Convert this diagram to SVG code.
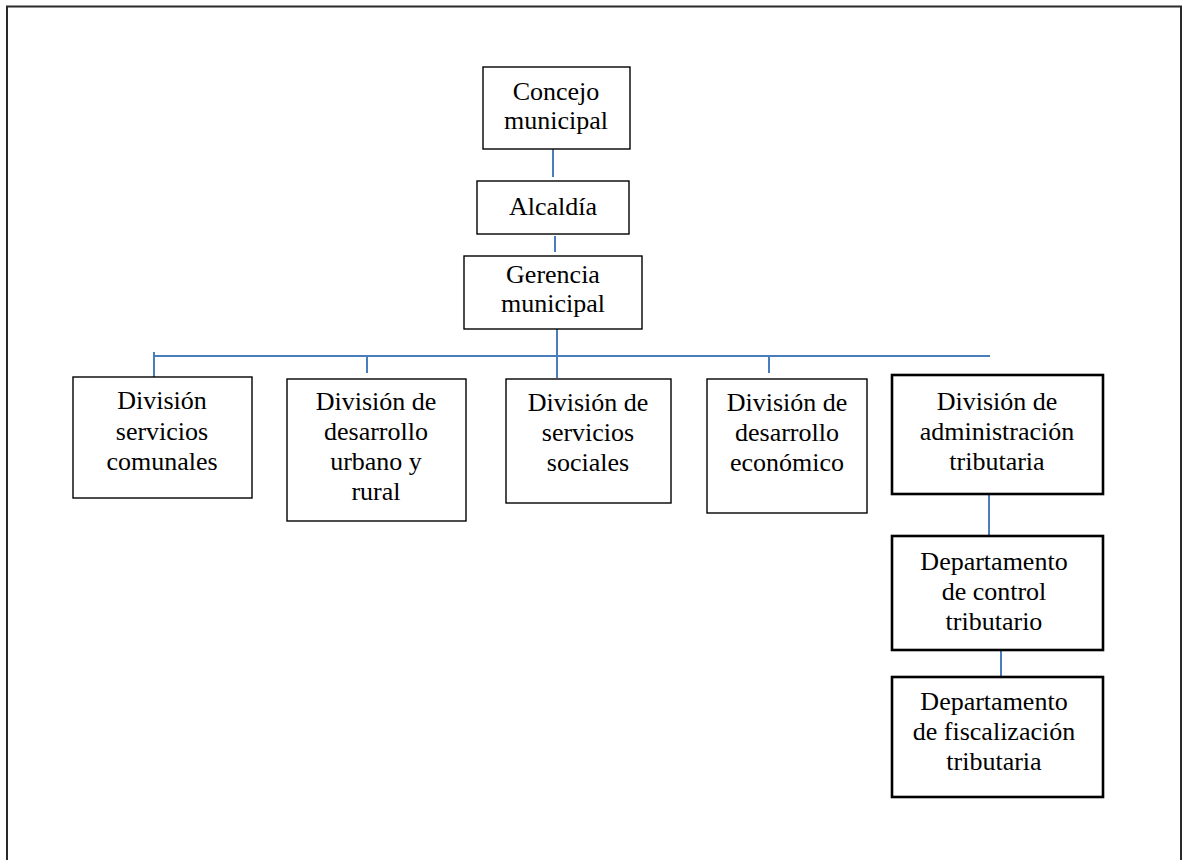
<svg xmlns="http://www.w3.org/2000/svg" width="1186" height="860" viewBox="0 0 1186 860">
<style>
.bg{fill:#ffffff}
.frame{fill:none;stroke:#2a2a2a;stroke-width:2}
.box{fill:#ffffff;stroke:#000000;stroke-width:1.4}
.boxb{fill:#ffffff;stroke:#000000;stroke-width:2.6}
.t{font-family:"Liberation Serif","Times New Roman",serif;font-size:26px;fill:#000000;text-anchor:middle}
.c{stroke:#4a7ebb;stroke-width:2;fill:none}
</style>
<rect class="bg" x="0" y="0" width="1186" height="860"/>
<path class="frame" d="M7,862 V6.5 H1181 V862"/>
<g id="connectors">
<line class="c" x1="553" y1="149" x2="553" y2="177"/>
<line class="c" x1="555" y1="236" x2="555" y2="252"/>
<line class="c" x1="557" y1="329" x2="557" y2="378"/>
<line class="c" x1="154" y1="356" x2="990" y2="356"/>
<line class="c" x1="154" y1="352" x2="154" y2="378"/>
<line class="c" x1="367" y1="356" x2="367" y2="373"/>
<line class="c" x1="769" y1="356" x2="769" y2="373"/>
<line class="c" x1="989" y1="494" x2="989" y2="535"/>
<line class="c" x1="1001" y1="650" x2="1001" y2="677"/>
</g>
<g id="concejo">
<rect class="box" x="483" y="67" width="147" height="82"/>
<text class="t" x="556" y="100">Concejo</text>
<text class="t" x="556" y="129">municipal</text>
</g>
<g id="alcaldia">
<rect class="box" x="477" y="181" width="152" height="53"/>
<text class="t" x="553" y="215">Alcaldía</text>
</g>
<g id="gerencia">
<rect class="box" x="464" y="256" width="178" height="73"/>
<text class="t" x="553" y="283">Gerencia</text>
<text class="t" x="553" y="312">municipal</text>
</g>
<g id="div-comunales">
<rect class="box" x="73" y="377" width="179" height="121"/>
<text class="t" x="162" y="409">División</text>
<text class="t" x="162" y="440">servicios</text>
<text class="t" x="162" y="470">comunales</text>
</g>
<g id="div-urbano">
<rect class="box" x="287" y="379" width="179" height="142"/>
<text class="t" x="376" y="410">División de</text>
<text class="t" x="376" y="440">desarrollo</text>
<text class="t" x="376" y="470">urbano y</text>
<text class="t" x="376" y="500">rural</text>
</g>
<g id="div-sociales">
<rect class="box" x="506" y="379" width="165" height="124"/>
<text class="t" x="588" y="411">División de</text>
<text class="t" x="588" y="441">servicios</text>
<text class="t" x="588" y="471">sociales</text>
</g>
<g id="div-economico">
<rect class="box" x="707" y="379" width="160" height="134"/>
<text class="t" x="787" y="411">División de</text>
<text class="t" x="787" y="441">desarrollo</text>
<text class="t" x="787" y="471">económico</text>
</g>
<g id="div-tributaria">
<rect class="boxb" x="892" y="375" width="211" height="119"/>
<text class="t" x="997" y="410">División de</text>
<text class="t" x="997" y="440">administración</text>
<text class="t" x="997" y="470">tributaria</text>
</g>
<g id="dep-control">
<rect class="boxb" x="892" y="536" width="211" height="114"/>
<text class="t" x="994" y="570">Departamento</text>
<text class="t" x="994" y="600">de control</text>
<text class="t" x="994" y="630">tributario</text>
</g>
<g id="dep-fiscalizacion">
<rect class="boxb" x="892" y="677" width="211" height="120"/>
<text class="t" x="994" y="710">Departamento</text>
<text class="t" x="994" y="740">de fiscalización</text>
<text class="t" x="994" y="770">tributaria</text>
</g>
</svg>
